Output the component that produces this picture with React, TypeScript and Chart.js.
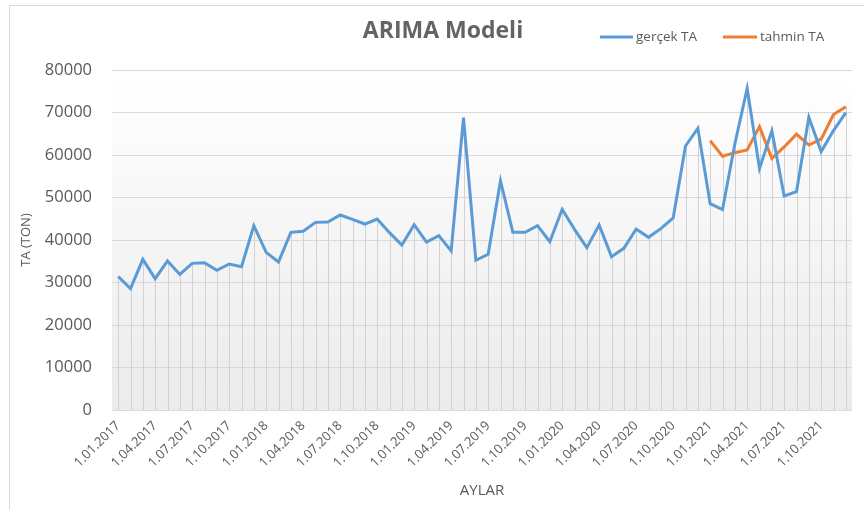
import React, { useEffect, useRef } from "react";
import { Chart, registerables } from "chart.js";

Chart.register(...registerables);

const categories = [
  "1.01.2017", "1.02.2017", "1.03.2017", "1.04.2017", "1.05.2017", "1.06.2017",
  "1.07.2017", "1.08.2017", "1.09.2017", "1.10.2017", "1.11.2017", "1.12.2017",
  "1.01.2018", "1.02.2018", "1.03.2018", "1.04.2018", "1.05.2018", "1.06.2018",
  "1.07.2018", "1.08.2018", "1.09.2018", "1.10.2018", "1.11.2018", "1.12.2018",
  "1.01.2019", "1.02.2019", "1.03.2019", "1.04.2019", "1.05.2019", "1.06.2019",
  "1.07.2019", "1.08.2019", "1.09.2019", "1.10.2019", "1.11.2019", "1.12.2019",
  "1.01.2020", "1.02.2020", "1.03.2020", "1.04.2020", "1.05.2020", "1.06.2020",
  "1.07.2020", "1.08.2020", "1.09.2020", "1.10.2020", "1.11.2020", "1.12.2020",
  "1.01.2021", "1.02.2021", "1.03.2021", "1.04.2021", "1.05.2021", "1.06.2021",
  "1.07.2021", "1.08.2021", "1.09.2021", "1.10.2021", "1.11.2021", "1.12.2021",
];

const gercekTA = [
  31400, 28550, 35450, 30900, 35060, 31900, 34500, 34670, 32860, 34350,
  33700, 43370, 37100, 34820, 41800, 42040, 44150, 44240, 45880, 44860,
  43760, 44940, 41730, 38820, 43600, 39530, 41020, 37410, 68780, 35220,
  36630, 53960, 41800, 41800, 43370, 39600, 47220, 42500, 38200, 43530,
  36080, 38040, 42590, 40630, 42670, 45180, 62120, 66270, 48550, 47140,
  62600, 75690, 56800, 65700, 50350, 51370, 68900, 60800, 65750, 69960,
];

const tahminTA: (number | null)[] = [
  null, null, null, null, null, null, null, null, null, null,
  null, null, null, null, null, null, null, null, null, null,
  null, null, null, null, null, null, null, null, null, null,
  null, null, null, null, null, null, null, null, null, null,
  null, null, null, null, null, null, null, null, 63370, 59700,
  60550, 61180, 66670, 59180, 61900, 64900, 62350, 63720, 69530, 71370,
];

const yMin = 0;
const yMax = 80000;
const yStep = 10000;

const chartTitle = "ARIMA Modeli";
const seriesNames = ["gerçek TA", "tahmin TA"];
const xTitle = "AYLAR";
const yTitle = "TA (TON)";

const FONT = "'Open Sans', sans-serif";
const TEXT = "#595959";
const BLUE = "#5b9bd5";
const ORANGE = "#ed7d31";

const plotBackground = {
  id: "plotBackground",
  beforeDraw(chart: any) {
    const { ctx, chartArea: a } = chart;
    if (!a) return;
    const g = ctx.createLinearGradient(0, a.top, 0, a.bottom);
    g.addColorStop(0, "#ffffff");
    g.addColorStop(1, "#ebebeb");
    ctx.save();
    ctx.fillStyle = g;
    ctx.fillRect(a.left, a.top, a.right - a.left, a.bottom - a.top);
    ctx.restore();
  },
};

const dropLines = {
  id: "dropLines",
  beforeDatasetsDraw(chart: any) {
    const { ctx } = chart;
    const xs = chart.scales.x;
    const ys = chart.scales.y;
    ctx.save();
    ctx.strokeStyle = "#d2d2d2";
    ctx.lineWidth = 1;
    for (let i = 0; i < categories.length; i++) {
      let top: number | null = null;
      chart.data.datasets.forEach((ds: any) => {
        const v = ds.data[i];
        if (v !== null && v !== undefined && (top === null || v > top)) top = v;
      });
      if (top === null) continue;
      const x = Math.round(xs.getPixelForValue(i)) + 0.5;
      ctx.beginPath();
      ctx.moveTo(x, ys.getPixelForValue(top));
      ctx.lineTo(x, ys.getPixelForValue(0));
      ctx.stroke();
    }
    ctx.restore();
  },
};

const header = {
  id: "header",
  afterDraw(chart: any) {
    const { ctx } = chart;
    ctx.save();
    ctx.fillStyle = "#646464";
    ctx.font = `bold 23px ${FONT}`;
    ctx.textAlign = "center";
    ctx.textBaseline = "middle";
    ctx.fillText(chartTitle, 443, 31);

    const items = [
      { name: seriesNames[0], color: BLUE, x0: 600, x1: 633, tx: 636 },
      { name: seriesNames[1], color: ORANGE, x0: 723, x1: 757, tx: 760 },
    ];
    ctx.font = `13.5px ${FONT}`;
    ctx.textAlign = "left";
    items.forEach((it) => {
      ctx.strokeStyle = it.color;
      ctx.lineWidth = 3;
      ctx.beginPath();
      ctx.moveTo(it.x0, 37);
      ctx.lineTo(it.x1, 37);
      ctx.stroke();
      ctx.fillStyle = TEXT;
      ctx.fillText(it.name, it.tx, 37);
    });
    ctx.restore();
  },
};

export default function App() {
  const canvasRef = useRef<HTMLCanvasElement | null>(null);

  useEffect(() => {
    if (!canvasRef.current) return;
    const chart = new Chart(canvasRef.current, {
      type: "line",
      data: {
        labels: categories,
        datasets: [
          {
            label: seriesNames[0],
            data: gercekTA,
            borderColor: BLUE,
            backgroundColor: BLUE,
            borderWidth: 3,
            pointRadius: 0,
            tension: 0,
          },
          {
            label: seriesNames[1],
            data: tahminTA,
            borderColor: ORANGE,
            backgroundColor: ORANGE,
            borderWidth: 3,
            pointRadius: 0,
            tension: 0,
          },
        ],
      },
      options: {
        animation: false,
        responsive: true,
        maintainAspectRatio: false,
        layout: { padding: { top: 70, right: 12, left: 0, bottom: 0 } },
        plugins: {
          legend: { display: false },
          title: { display: false },
          tooltip: { enabled: false },
        },
        scales: {
          x: {
            type: "category",
            offset: true,
            grid: { display: false, drawTicks: false },
            border: { display: false },
            ticks: {
              autoSkip: false,
              maxRotation: 45,
              minRotation: 45,
              padding: 8,
              color: TEXT,
              font: { family: FONT, size: 13 },
              callback: (_v: any, i: number) => (i % 3 === 0 ? categories[i] : null),
            },
            title: {
              display: true,
              text: xTitle,
              color: TEXT,
              font: { family: FONT, size: 15 },
              padding: { top: 0, bottom: 10 },
            },
            afterFit: (s: any) => {
              s.height = 100;
            },
          },
          y: {
            min: yMin,
            max: yMax,
            grid: { color: "#d9d9d9", drawTicks: false },
            border: { display: false },
            ticks: {
              stepSize: yStep,
              padding: 20,
              color: TEXT,
              font: { family: FONT, size: 16.5 },
              callback: (v: any) => String(v),
            },
            title: {
              display: true,
              text: yTitle,
              color: TEXT,
              font: { family: FONT, size: 13 },
              padding: { top: 18, bottom: 0 },
            },
            afterFit: (s: any) => {
              s.width = 112;
            },
          },
        },
      },
      plugins: [plotBackground, dropLines, header],
    });
    return () => chart.destroy();
  }, []);

  return (
    <div
      style={{
        position: "fixed",
        left: 0,
        top: 0,
        width: 864,
        height: 510,
        overflow: "hidden",
        background: "#ffffff",
      }}
    >
      <div
        style={{
          position: "absolute",
          left: 9,
          top: 5,
          width: 900,
          height: 600,
          border: "1px solid #d9d9d9",
        }}
      />
      <div style={{ position: "absolute", left: 0, top: 0, width: 864, height: 510 }}>
        <canvas ref={canvasRef} />
      </div>
    </div>
  );
}
